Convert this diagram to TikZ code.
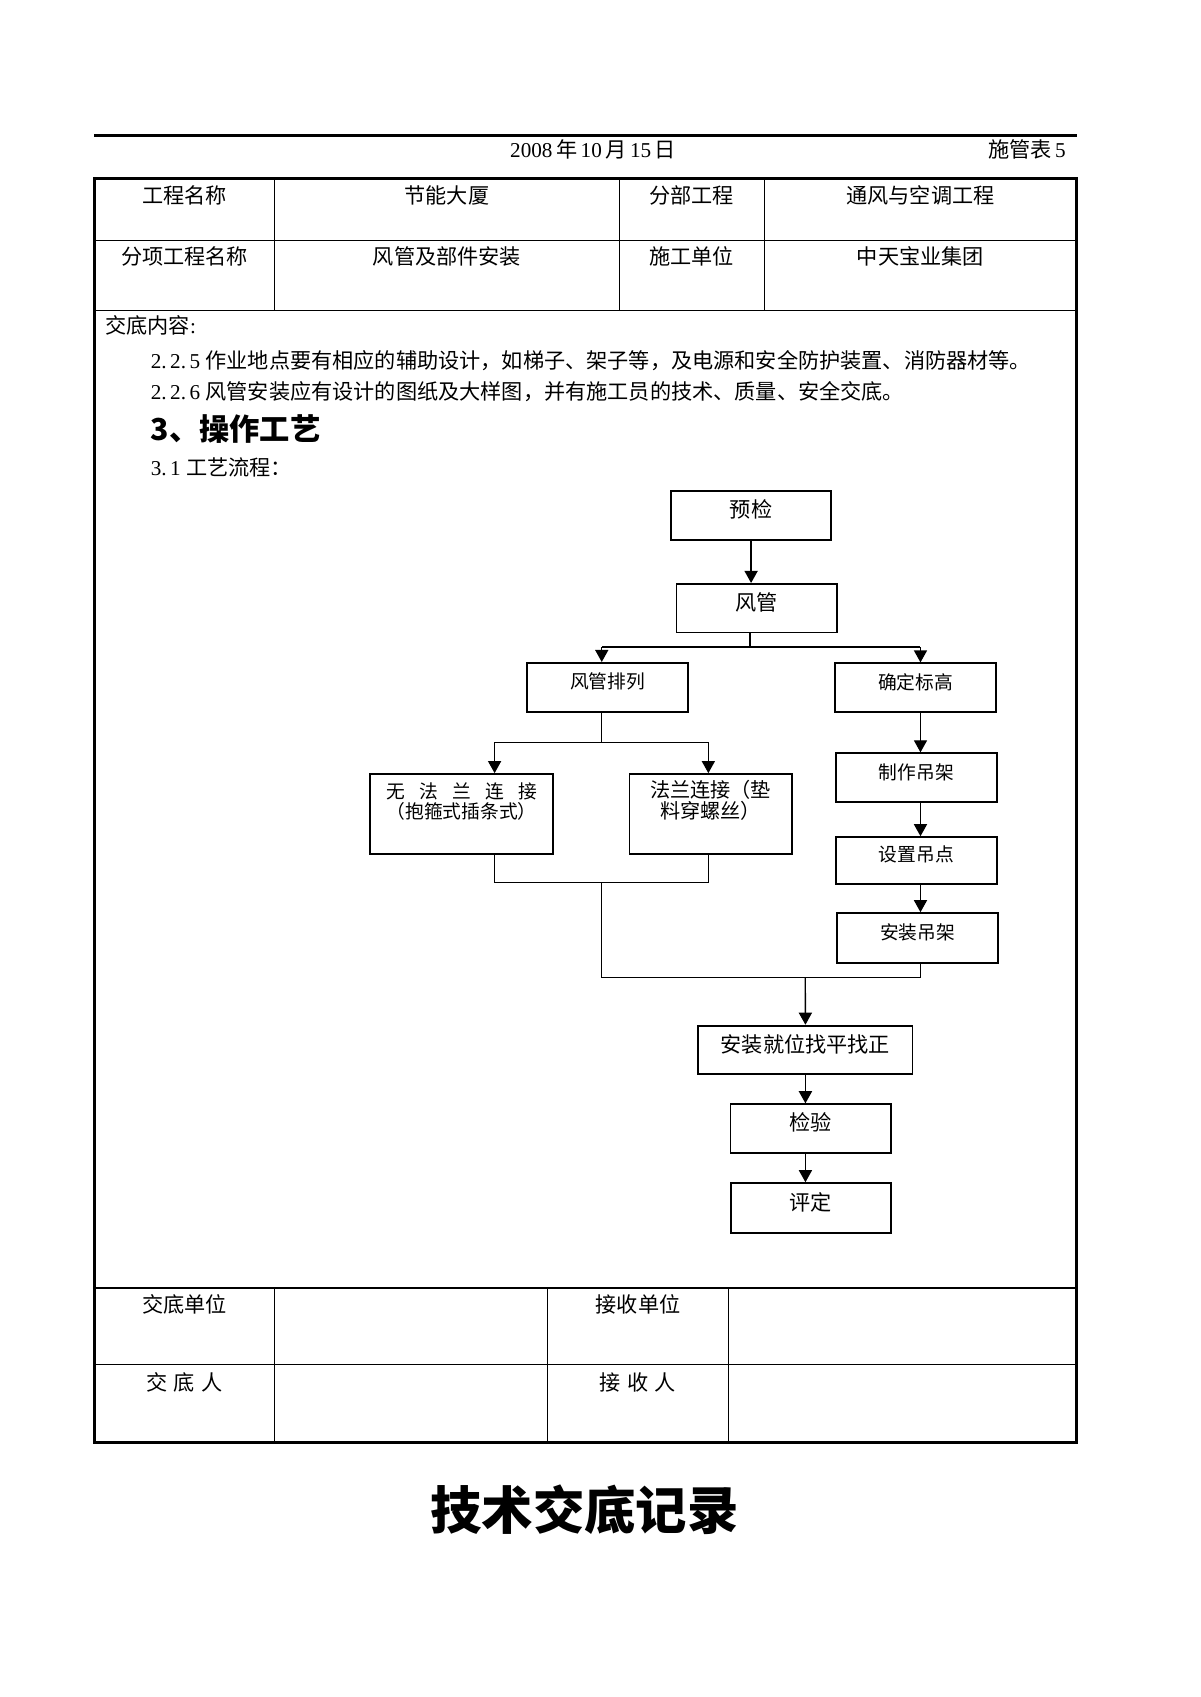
\documentclass[tikz,border=0pt]{standalone}
\usepackage{fontspec}
\setmainfont{Liberation Serif}
\newfontfamily\cjk{Noto Sans CJK SC}
\usetikzlibrary{arrows.meta}
\newcommand{\pxu}{0.5368pt}
\newcommand{\lt}[1]{{\rmfamily #1}}

\begin{document}
\begin{tikzpicture}[
  x=0.5368pt, y=-0.5368pt,
  txt/.style={font=\cjk\fontsize{10.5}{12}\selectfont, inner sep=0pt},
  flowbox/.style={draw, line width=0.9pt, inner sep=0pt,
    minimum width=148*\pxu, minimum height=45*\pxu,
    font=\cjk\fontsize{10.5}{12}\selectfont, text height=9.5pt, text depth=7.5pt},
  smallbox/.style={flowbox, font=\cjk\fontsize{9.3}{11}\selectfont, text height=8.5pt, text depth=7pt},
  arr/.style={line width=0.7pt, -{Triangle[length=6pt,width=6.5pt]}},
  conn/.style={line width=0.7pt},
]
\useasboundingbox (0,0) rectangle (1109,1568);
\fill [white] (0,0) rectangle (1109,1568);

% header
\draw [line width=1.6pt] (87,125) -- (995,125);
\node [txt] (date) at (548,138) {\lt{2008}\,年\,\lt{10}\,月\,\lt{15}\,日};
\node [txt, anchor=east] (formno) at (985,138) {施管表\,\lt{5}};

% table frame
\draw [line width=1.4pt] (87,165) rectangle (995,1333);
\draw [line width=0.5pt] (87,222) -- (995,222);
\draw [line width=0.8pt] (87,287) -- (995,287);
\draw [line width=0.8pt] (87,1190) -- (995,1190);
\draw [line width=0.5pt] (87,1261) -- (995,1261);
\foreach \x in {254,572,706} \draw [line width=0.5pt] (\x,165) -- (\x,287);
\foreach \x in {254,506,673} \draw [line width=0.5pt] (\x,1190) -- (\x,1333);

% table heads
\node [txt] (projname) at (170.5,181) {工程名称};
\node [txt] (projval) at (413,181) {节能大厦};
\node [txt] (partname) at (639,181) {分部工程};
\node [txt] (partval) at (850.5,181) {通风与空调工程};
\node [txt] (itemname) at (170.5,237) {分项工程名称};
\node [txt] (itemval) at (413,237) {风管及部件安装};
\node [txt] (unitname) at (639,237) {施工单位};
\node [txt] (unitval) at (850.5,237) {中天宝业集团};

% content
\node [txt, anchor=west] (content) at (97,301) {交底内容\lt{:}};
\node [txt, anchor=west] (item225) at (139,333) {\lt{2.\,2.\,5 }作业地点要有相应的辅助设计，如梯子、架子等，及电源和安全防护装置、消防器材等。};
\node [txt, anchor=west] (item226) at (139,362) {\lt{2.\,2.\,6 }风管安装应有设计的图纸及大样图，并有施工员的技术、质量、安全交底。};
\node [txt, anchor=west, font=\cjk\bfseries\fontsize{15}{17}\selectfont] (sec3) at (139,396) {3、操作工艺};
\node [txt, anchor=west] (sec31) at (139,432) {\lt{3.\,1 }工艺流程：};

% flow boxes
\node [flowbox] (yj) at (694,476.5) {预检};
\node [flowbox] (fg) at (699,562) {风管};
\node [smallbox, minimum width=149*\pxu] (pl) at (561.5,635) {风管排列};
\node [smallbox, minimum width=149*\pxu] (bg) at (846,635.4) {确定标高};
\node [flowbox, minimum width=169*\pxu, minimum height=74*\pxu,
  font=\cjk\fontsize{9.3}{9.5}\selectfont, align=center,
  text height=18pt, text depth=14.1pt] (wf) at (426.5,752.2)
  {\hbox to 74.6pt{无\hfill 法\hfill 兰\hfill 连\hfill 接}\\（抱箍式插条式）};
\node [flowbox, minimum width=150*\pxu, minimum height=74*\pxu,
  font=\cjk\fontsize{10}{10}\selectfont, align=center,
  text height=18pt, text depth=14.1pt] (fl) at (656.6,752.2)
  {法兰连接（垫\\料穿螺丝）};
\node [smallbox, minimum width=149*\pxu] (zz) at (846.8,718.5) {制作吊架};
\node [smallbox, minimum width=149*\pxu, minimum height=43*\pxu] (sd) at (846.8,795) {设置吊点};
\node [smallbox, minimum width=149*\pxu, minimum height=46*\pxu] (az) at (847.9,866.7) {安装吊架};
\node [flowbox, minimum width=198*\pxu] (jw) at (744.2,970.2) {安装就位找平找正};
\node [flowbox] (jy) at (749,1042.8) {检验};
\node [flowbox, minimum height=46*\pxu] (pd) at (749.2,1116.2) {评定};

% junctions
\coordinate (j1) at (693,598);
\coordinate (t1) at (556,598);
\coordinate (t2) at (850.5,598);
\coordinate (j2) at (556,686);
\coordinate (t3) at (457,686);
\coordinate (t4) at (654.5,686);
\coordinate (m1) at (556,815.5);
\coordinate (m2) at (556,903);
\coordinate (m3) at (744,903);

% connectors
\draw [arr] (yj.south) -- (yj.south |- fg.north);
\draw [conn] (j1 |- fg.south) -- (j1);
\draw [conn] (t1) -- (t2);
\draw [arr] (t1) -- (t1 |- pl.north);
\draw [arr] (t2) -- (t2 |- bg.north);
\draw [conn] (j2 |- pl.south) -- (j2);
\draw [conn] (t3) -- (t4);
\draw [arr] (t3) -- (t3 |- wf.north);
\draw [arr] (t4) -- (t4 |- fl.north);
\draw [arr] (t2 |- bg.south) -- (t2 |- zz.north);
\draw [arr] (t2 |- zz.south) -- (t2 |- sd.north);
\draw [arr] (t2 |- sd.south) -- (t2 |- az.north);
\draw [conn] (t3 |- wf.south) -- (t3 |- m1) -- (t4 |- m1) -- (t4 |- fl.south);
\draw [conn] (m1) -- (m2) -- (t2 |- m2) -- (t2 |- az.south);
\draw [arr] (m3) -- (jw.north);
\draw [arr] (jw.south) -- (jw.south |- jy.north);
\draw [arr] (jw.south |- jy.south) -- (jw.south |- pd.north);

% signatures
\node [txt] (fromunit) at (170.5,1205) {交底单位};
\node [txt] (tounit) at (589.5,1205) {接收单位};
\node [txt] (fromman) at (170.5,1277) {交\hspace{0.3em}底\hspace{0.3em}人};
\node [txt] (toman) at (589.5,1277) {接\hspace{0.3em}收\hspace{0.3em}人};

% title
\node [font=\cjk\bfseries\fontsize{25.5}{28}\selectfont, inner sep=0pt] (title) at (540,1395) {技术交底记录};
\end{tikzpicture}
\end{document}
